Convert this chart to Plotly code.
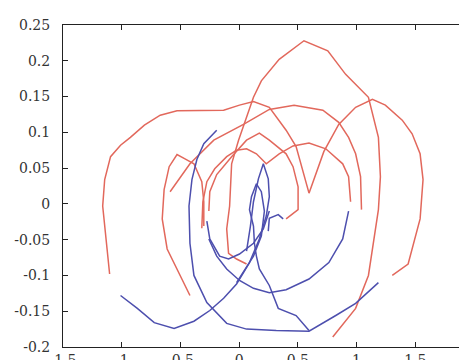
import plotly.graph_objects as go

# ---- data ----
r1_x = [-1.103, -1.145, -1.162, -1.145, -1.095, -1.010, -0.926, -0.807, -0.672, -0.529, -0.275, -0.132, 0.003, 0.122, 0.257, 0.341, 0.400, 0.485, 0.595, 0.721, 0.848, 0.992, 1.135, 1.245, 1.389, 1.473, 1.541, 1.566, 1.541, 1.439, 1.304]
r1_y = [-0.098, -0.035, -0.003, 0.034, 0.066, 0.082, 0.093, 0.110, 0.124, 0.130, 0.131, 0.131, 0.138, 0.143, 0.135, 0.117, 0.103, 0.080, 0.015, 0.073, 0.111, 0.135, 0.146, 0.138, 0.117, 0.098, 0.070, 0.034, -0.021, -0.084, -0.100]

r2_x = [-0.588, -0.419, -0.216, 0.037, 0.257, 0.468, 0.713, 0.848, 0.932, 0.992, 1.034, 1.042]
r2_y = [0.017, 0.056, 0.089, 0.111, 0.132, 0.138, 0.131, 0.114, 0.093, 0.070, 0.038, -0.008]

r3_x = [0.797, 0.992, 1.101, 1.186, 1.203, 1.186, 1.101, 0.907, 0.755, 0.552, 0.341, 0.189, 0.122, 0.063, -0.005, -0.064, -0.081, -0.106, -0.090, -0.022, 0.063]
r3_y = [-0.186, -0.146, -0.100, -0.008, 0.038, 0.093, 0.149, 0.181, 0.214, 0.228, 0.202, 0.172, 0.149, 0.121, 0.089, 0.056, -0.003, -0.035, -0.069, -0.077, -0.084]

r4_x = [-0.419, -0.503, -0.613, -0.655, -0.639, -0.596, -0.529, -0.461, -0.385, -0.318, -0.301, -0.301]
r4_y = [-0.128, -0.100, -0.063, -0.021, 0.020, 0.052, 0.069, 0.063, 0.056, 0.031, 0.003, -0.031]

r5_x = [-0.318, -0.309, -0.275, -0.208, -0.106, -0.022, 0.063, 0.147, 0.231, 0.341, 0.459, 0.595, 0.738, 0.882, 0.932, 0.949]
r5_y = [-0.034, 0.003, 0.031, 0.049, 0.066, 0.075, 0.077, 0.070, 0.056, 0.070, 0.081, 0.085, 0.077, 0.056, 0.038, 0.003]

r6_x = [-0.258, -0.250, -0.191, -0.064, 0.063, 0.172, 0.257, 0.400, 0.459, 0.502, 0.502, 0.400]
r6_y = [-0.010, 0.017, 0.041, 0.066, 0.089, 0.099, 0.089, 0.070, 0.052, 0.024, -0.008, -0.021]

b1_x = [-1.010, -0.867, -0.723, -0.554, -0.385, -0.250, -0.132, -0.022, 0.088, 0.172, 0.231, 0.257, 0.248, 0.206, 0.164, 0.122, 0.096, 0.063]
b1_y = [-0.128, -0.146, -0.166, -0.174, -0.164, -0.149, -0.132, -0.112, -0.082, -0.049, -0.017, 0.010, 0.035, 0.056, 0.035, 0.003, -0.031, -0.066]

b2_x = [-0.191, -0.301, -0.360, -0.402, -0.427, -0.419, -0.385, -0.275, -0.106, 0.063, 0.316, 0.595, 0.823, 0.992, 1.186]
b2_y = [0.103, 0.084, 0.062, 0.034, -0.003, -0.055, -0.100, -0.138, -0.167, -0.175, -0.177, -0.178, -0.156, -0.139, -0.110]

b3_x = [-0.275, -0.250, -0.166, -0.090, 0.003, 0.122, 0.206, 0.257]
b3_y = [-0.024, -0.049, -0.073, -0.077, -0.070, -0.055, -0.035, -0.010]

b4_x = [-0.258, -0.191, -0.106, 0.003, 0.122, 0.257, 0.400, 0.595, 0.764, 0.882, 0.932]
b4_y = [-0.049, -0.073, -0.091, -0.107, -0.118, -0.124, -0.120, -0.105, -0.082, -0.049, -0.010]

b5_x = [-0.022, 0.122, 0.189, 0.215, 0.189, 0.147, 0.105, 0.088, 0.122, 0.130, 0.147, 0.172, 0.257, 0.333, 0.485, 0.595]
b5_y = [-0.110, -0.073, -0.045, -0.010, 0.017, 0.028, 0.010, -0.008, -0.031, -0.055, -0.073, -0.091, -0.114, -0.146, -0.156, -0.177]

b6_x = [0.248, 0.257, 0.333, 0.375]
b6_y = [-0.038, -0.020, -0.015, -0.021]

x_ticks = [-1.5, -1, -0.5, 0, 0.5, 1, 1.5, 2]
x_tick_labels = ["-1.5", "-1", "-0.5", "0", "0.5", "1", "1.5", "2"]
y_ticks = [-0.2, -0.15, -0.1, -0.05, 0, 0.05, 0.1, 0.15, 0.2, 0.25]
y_tick_labels = ["-0.2", "-0.15", "-0.1", "-0.05", "0", "0.05", "0.1", "0.15", "0.2", "0.25"]

RED = "#e2685c"
BLUE = "#4d4fae"
SERIF = "DejaVu Serif"

red_series = [(r1_x, r1_y), (r2_x, r2_y), (r3_x, r3_y), (r4_x, r4_y), (r5_x, r5_y), (r6_x, r6_y)]
blue_series = [(b1_x, b1_y), (b2_x, b2_y), (b3_x, b3_y), (b4_x, b4_y), (b5_x, b5_y), (b6_x, b6_y)]

fig = go.Figure()
for xs, ys in red_series:
    fig.add_trace(go.Scatter(x=xs, y=ys, mode="lines", line=dict(color=RED, width=1.5), showlegend=False, hoverinfo="skip"))
for xs, ys in blue_series:
    fig.add_trace(go.Scatter(x=xs, y=ys, mode="lines", line=dict(color=BLUE, width=1.5), showlegend=False, hoverinfo="skip"))

axis_common = dict(
    showgrid=False, zeroline=False, showline=True, linecolor="#222", linewidth=1.2,
    mirror="ticks", ticks="inside", ticklen=5, tickcolor="#222", tickwidth=1,
    tickfont=dict(family=SERIF, size=14, color="#333"),
)

fig.update_layout(
    width=467, height=360,
    margin=dict(l=55, r=0, t=17, b=18),
    paper_bgcolor="white", plot_bgcolor="white",
    font=dict(family=SERIF),
    xaxis=dict(range=[-1.5, 2], tickvals=x_ticks, ticktext=x_tick_labels, **axis_common),
    yaxis=dict(range=[-0.2, 0.25], tickvals=y_ticks,
               ticktext=[t + "\u00a0\u00a0" for t in y_tick_labels], **axis_common),
)

fig.write_html("out.html")
